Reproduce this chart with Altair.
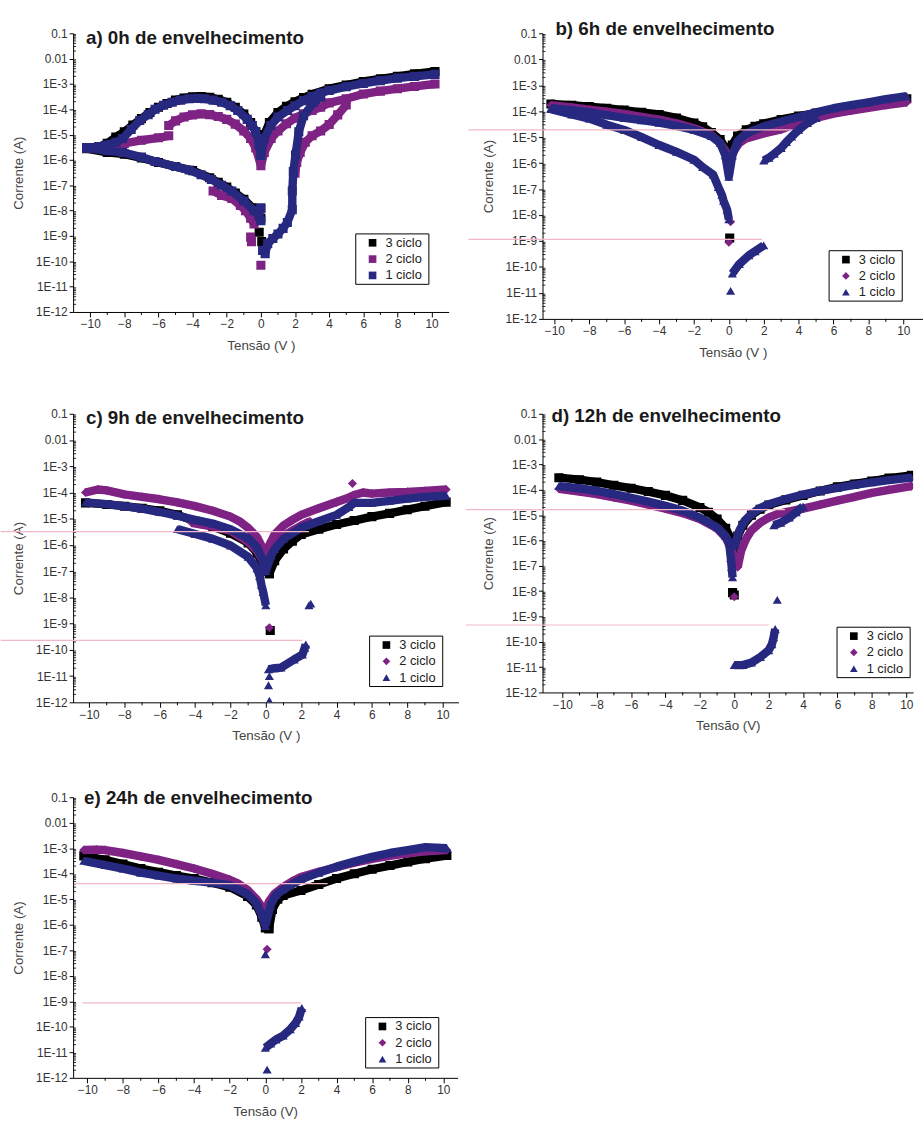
import altair as alt
import pandas as pd

FONT = "Liberation Sans"
SERIES = ["3 ciclo", "2 ciclo", "1 ciclo"]
COLORS = ["#000000", "#7E2283", "#27287F"]
PINK = "#F2B8C8"

# ---------------- panel a) 0h ----------------
a3_up = [(-10.2, 3e-6), (-9.5, 3.3e-6), (-9, 4.5e-6), (-8.5, 8e-6), (-8, 1.3e-5), (-7.5, 2.4e-5),
         (-7, 4.3e-5), (-6.5, 7.5e-5), (-6, 1.2e-4), (-5.5, 1.7e-4), (-5, 2.3e-4), (-4.5, 2.8e-4),
         (-4, 3.1e-4), (-3.5, 3.2e-4), (-3, 3e-4), (-2.5, 2.5e-4), (-2, 1.9e-4), (-1.5, 1.2e-4),
         (-1, 6.5e-5), (-0.6, 3e-5), (-0.3, 1.3e-5), (0, 2e-6), (0.2, 1e-5), (0.5, 3e-5), (1, 7.5e-5),
         (1.5, 1.3e-4), (2, 2e-4), (2.5, 2.9e-4), (3, 3.9e-4), (4, 6.5e-4), (5, 9e-4), (6, 1.25e-3),
         (7, 1.6e-3), (8, 2e-3), (9, 2.5e-3), (10.2, 3.1e-3)]
a3_low = [(-10.2, 2.8e-6), (-9, 2e-6), (-8, 1.7e-6), (-7, 1.2e-6), (-6, 8e-7), (-5, 5.5e-7),
          (-4, 3.8e-7), (-3, 2e-7), (-2.5, 1.3e-7), (-2, 8.5e-8), (-1.5, 5e-8), (-1, 2.8e-8),
          (-0.5, 1.3e-8), (-0.2, 8e-9), (0, 5e-9)]
a3_dots = [(-0.1, 1.4e-9), (0.05, 6e-10)]
a2_seg = [(-10.2, 3e-6), (-9, 3.2e-6), (-8.5, 3.6e-6), (-8, 4.5e-6), (-7, 6e-6), (-6, 7.5e-6), (-5.4, 9e-6)]
a2_up = [(-5.4, 2.3e-5), (-5, 3.5e-5), (-4.5, 5e-5), (-4, 6e-5), (-3.5, 6.6e-5), (-3, 6.2e-5),
         (-2.5, 5.2e-5), (-2, 4e-5), (-1.5, 2.6e-5), (-1, 1.4e-5), (-0.6, 7e-6), (-0.3, 3e-6),
         (0, 6e-7), (0.2, 2e-6), (0.6, 7e-6), (1, 1.4e-5), (1.5, 2.7e-5), (2, 4.5e-5), (2.5, 6.6e-5),
         (3, 9e-5), (3.5, 1.2e-4), (4, 1.8e-4), (5, 2.6e-4), (6, 4e-4), (7, 5.2e-4), (8, 6.5e-4),
         (9, 8e-4), (10.2, 1e-3)]
a2_low = [(-2.8, 6e-8), (-2.3, 4e-8), (-1.7, 3e-8), (-1.2, 1.6e-8), (-0.9, 1e-8), (-0.6, 5e-9), (-0.4, 3e-9)]
a2_rise = [(2.0, 3e-7), (2.1, 8e-7), (2.3, 2e-6), (2.6, 5e-6), (3.0, 9e-6), (3.5, 1.4e-5),
           (4.0, 2.5e-5), (4.5, 6e-5), (5, 1.5e-4)]
a2_dots = [(-0.6, 9e-10), (-0.55, 6e-10), (0, 7e-11), (0, 1.2e-8)]
a1_up = [(-10.2, 3e-6), (-9.5, 3.3e-6), (-9, 4e-6), (-8.5, 5e-6), (-8.1, 7e-6), (-7.6, 1.6e-5),
         (-7.1, 3.6e-5), (-6.6, 6.2e-5), (-6.2, 1e-4), (-5.7, 1.45e-4), (-5.2, 1.9e-4), (-4.7, 2.3e-4),
         (-4.2, 2.6e-4), (-3.7, 2.7e-4), (-3.3, 2.6e-4), (-2.8, 2.3e-4), (-2.3, 1.9e-4), (-1.8, 1.4e-4),
         (-1.35, 9e-5), (-0.8, 4e-5), (-0.5, 2.3e-5), (-0.3, 1.3e-5), (-0.1, 4e-6), (0, 1.5e-6),
         (0.2, 7e-6), (0.58, 2.3e-5), (1, 5e-5), (1.55, 9e-5), (2, 1.4e-4), (2.5, 2.2e-4),
         (3, 3.2e-4), (3.5, 4.4e-4), (4, 5.5e-4), (5, 7.8e-4), (6, 1.05e-3), (7, 1.35e-3),
         (8, 1.7e-3), (9, 2e-3), (10.2, 2.4e-3)]
a1_low = [(-10.2, 3e-6), (-9, 2.3e-6), (-8.1, 2e-6), (-7, 1.3e-6), (-6.2, 8.7e-7), (-5, 5.5e-7),
          (-4.2, 4e-7), (-3.5, 2.6e-7), (-2.9, 1.7e-7), (-2.3, 1e-7), (-1.7, 5.9e-8), (-1, 2.4e-8),
          (-0.4, 1e-8), (-0.1, 6e-9), (0, 4e-9)]
a1_rise = [(0.1, 2.7e-10), (0.25, 2e-10), (0.4, 5e-10), (0.7, 8e-10), (1, 1.2e-9), (1.3, 2e-9),
           (1.55, 3.4e-9), (1.84, 1.1e-8), (1.84, 6e-8), (1.9, 3.5e-7), (2.03, 1.6e-6),
           (2.22, 1.3e-5), (2.5, 5.6e-5), (3.1, 1.9e-4), (3.5, 3e-4)]
a1_dots = [(0, 1.3e-8)]

# ---------------- panel b) 6h ----------------
b3_left = [(-10.2, 1.9e-4), (-9, 1.7e-4), (-8, 1.5e-4), (-7, 1.3e-4), (-6, 1.1e-4), (-5, 9e-5),
           (-4, 7.5e-5), (-3, 5.5e-5), (-2, 3.5e-5), (-1.5, 2.5e-5), (-1, 1.5e-5), (-0.5, 8e-6),
           (-0.2, 4e-6), (0, 2e-6)]
b3_right = [(0, 2e-6), (0.2, 5e-6), (0.5, 1.1e-5), (1, 1.9e-5), (1.5, 2.6e-5), (2, 3.3e-5),
            (3, 4.8e-5), (4, 6.5e-5), (5, 8.5e-5), (6, 1.1e-4), (7, 1.4e-4), (8, 1.8e-4),
            (9, 2.3e-4), (10.2, 3e-4)]
b3_dots = [(0.05, 1.3e-9)]
b2_left = [(-10.2, 1.7e-4), (-9, 1.4e-4), (-8, 1.15e-4), (-7, 9.5e-5), (-6, 7.8e-5), (-5, 6e-5),
           (-4, 4.7e-5), (-3, 3.4e-5), (-2, 2.2e-5), (-1, 1.2e-5), (-0.5, 6e-6), (-0.2, 3e-6), (0, 1e-6)]
b2_right = [(0, 1e-6), (0.3, 3e-6), (0.6, 6e-6), (1, 9e-6), (2, 1.4e-5), (3, 2e-5), (4, 3.5e-5),
            (5, 5.5e-5), (6, 8e-5), (7, 1.05e-4), (8, 1.35e-4), (9, 1.7e-4), (10.2, 2.2e-4)]
b2_dots = [(0.1, 5.5e-9), (0, 9e-10)]
b1_up = [(-10.2, 1.3e-4), (-9, 1.1e-4), (-8, 9e-5), (-7, 7e-5), (-6, 5.5e-5), (-5, 4.5e-5),
         (-4, 3.6e-5), (-3, 2.7e-5), (-2, 1.9e-5), (-1, 1.1e-5), (-0.5, 6e-6), (-0.2, 2e-6), (0, 3e-7),
         (0.2, 2e-6), (0.5, 7e-6), (1, 1.4e-5), (2, 2.6e-5), (3, 4e-5), (4, 6e-5), (5, 9e-5),
         (6, 1.3e-4), (7, 1.7e-4), (8, 2.2e-4), (9, 2.9e-4), (10.2, 3.8e-4)]
b1_low = [(-10.2, 1.2e-4), (-9, 7.5e-5), (-8, 5.2e-5), (-7, 3e-5), (-6, 1.9e-5), (-5, 1e-5),
          (-4, 5e-6), (-3, 2.7e-6), (-2, 1.35e-6), (-1.5, 7e-7), (-0.9, 3.6e-7), (-0.6, 1.2e-7),
          (-0.4, 6e-8), (-0.3, 3.5e-8), (-0.1, 1.6e-8), (0, 6.8e-9)]
b1_tail = [(0.2, 5.6e-11), (0.6, 1.3e-10), (1.15, 2.8e-10), (1.5, 4e-10), (2, 6.8e-10)]
b1_rise = [(2, 1.25e-6), (2.3, 1.6e-6), (2.6, 2.3e-6), (3, 3.8e-6), (3.3, 6.5e-6), (3.6, 1.05e-5),
           (4, 1.9e-5), (4.5, 3.5e-5), (5, 5.5e-5)]
b1_dots = [(0.1, 1.2e-11)]

# ---------------- panel c) 9h ----------------
c3_left = [(-10.2, 4e-5), (-9, 3.5e-5), (-8, 3e-5), (-7, 2.5e-5), (-6, 2e-5), (-5, 1.4e-5),
           (-4, 8e-6), (-3, 5e-6), (-2, 2.8e-6), (-1, 1.2e-6), (-0.5, 5e-7), (-0.2, 2e-7),
           (0, 1e-7), (0.2, 8e-8)]
c3_right = [(0.2, 8e-8), (0.5, 2.5e-7), (1, 7e-7), (1.5, 1.4e-6), (2, 2.5e-6), (3, 4e-6),
            (4, 6e-6), (5, 8.5e-6), (6, 1.2e-5), (7, 1.6e-5), (8, 2.2e-5), (9, 3e-5), (10.2, 4.3e-5)]
c3_dots = [(0.25, 5.5e-10)]
c2_up = [(-10.2, 1e-4), (-9.5, 1.3e-4), (-9, 1.2e-4), (-8, 8.5e-5), (-7, 6.8e-5), (-6, 5.5e-5),
         (-5, 4.2e-5), (-4, 3e-5), (-3, 2e-5), (-2, 1.2e-5), (-1.5, 8e-6), (-1, 4.5e-6),
         (-0.5, 2e-6), (-0.2, 8e-7), (0, 2.6e-7), (0.2, 1e-6), (0.5, 2.5e-6), (1, 5.5e-6),
         (1.5, 9e-6), (2, 1.4e-5), (3, 2.5e-5), (4, 4.3e-5), (4.6, 6e-5), (5, 8e-5), (5.5, 1e-4),
         (6, 9e-5), (7, 1e-4), (8, 1.05e-4), (9, 1.15e-4), (10.2, 1.3e-4)]
c2_inner = [(-4.2, 7e-6), (-3, 5e-6), (-2, 3.5e-6), (-1, 1.3e-6), (-0.5, 6e-7), (0, 1.5e-7),
            (0.3, 4e-7), (0.6, 1e-6), (1, 2.2e-6), (1.5, 3.5e-6), (2, 5.5e-6), (2.5, 8e-6)]
c2_dots = [(0.2, 7e-10), (4.9, 2.2e-4)]
c1_up = [(-10.2, 4.2e-5), (-9, 3.6e-5), (-8, 3e-5), (-7, 2.4e-5), (-6, 1.8e-5), (-5, 1.3e-5),
         (-4, 9e-6), (-3, 6.5e-6), (-2, 4e-6), (-1, 1.8e-6), (-0.5, 8e-7), (-0.2, 3e-7), (0, 1e-7),
         (0.3, 4e-7), (0.5, 7e-7), (1, 1.7e-6), (2, 4.5e-6), (3, 8e-6), (4, 1.4e-5), (4.7, 2.8e-5),
         (5, 4e-5), (6, 4e-5), (7, 4.8e-5), (8, 5.8e-5), (9, 6.8e-5), (10.2, 7.5e-5)]
c1_low = [(-5, 4e-6), (-4, 2.6e-6), (-3, 1.7e-6), (-2, 9.5e-7), (-1, 3.5e-7), (-0.5, 1.3e-7),
          (-0.35, 6.5e-8), (-0.25, 3e-8), (-0.15, 1.6e-8), (0, 5e-9)]
c1_tail = [(0.15, 1.8e-11), (0.5, 2e-11), (0.86, 2.1e-11), (1.6, 4.3e-11), (2.07, 6.6e-11),
           (2.2, 1.2e-10), (2.26, 1.6e-10)]
c1_dots = [(0.2, 1.15e-12), (0.15, 4.5e-12), (0.2, 1e-11), (2.44, 5e-9), (2.54, 5.8e-9)]

# ---------------- panel d) 12h ----------------
d3_left = [(-10.2, 3e-4), (-9, 2.5e-4), (-8, 2e-4), (-7, 1.5e-4), (-6, 1.15e-4), (-5, 8.5e-5),
           (-4, 6e-5), (-3, 3.8e-5), (-2, 2e-5), (-1.5, 1.3e-5), (-1, 7e-6), (-0.5, 3e-6),
           (-0.2, 1.2e-6), (0, 5e-7)]
d3_right = [(0, 5e-7), (0.2, 1.5e-6), (0.5, 4e-6), (1, 1e-5), (1.5, 1.7e-5), (2, 2.5e-5),
            (3, 4e-5), (4, 6e-5), (5, 9e-5), (6, 1.3e-4), (7, 1.7e-4), (8, 2.2e-4), (9, 2.9e-4),
            (10.3, 3.7e-4)]
d3_dots = [(-0.1, 8.7e-9), (0, 7e-9)]
d2_left = [(-10.2, 1.1e-4), (-9, 8.5e-5), (-8, 6.8e-5), (-7, 5e-5), (-6, 3.7e-5), (-5, 2.6e-5),
           (-4, 1.8e-5), (-3, 1.2e-5), (-2, 7e-6), (-1, 3e-6), (-0.5, 1.3e-6), (-0.2, 5e-7),
           (0, 2e-7), (0.2, 9e-8)]
d2_right = [(0.2, 9e-8), (0.4, 4e-7), (0.7, 1.2e-6), (1, 2.5e-6), (1.5, 5e-6), (2, 8e-6),
            (2.5, 1.1e-5), (3, 1.3e-5), (4, 1.8e-5), (5, 2.6e-5), (6, 3.7e-5), (7, 5.2e-5),
            (8, 7.5e-5), (9, 1e-4), (10.3, 1.4e-4)]
d2_dots = [(0, 6e-9)]
d1_up = [(-10.2, 1.4e-4), (-9, 1.15e-4), (-8, 9e-5), (-7, 6.8e-5), (-6, 4.8e-5), (-5, 3.4e-5),
         (-4, 2.3e-5), (-3, 1.5e-5), (-2, 8e-6), (-1, 3.3e-6), (-0.5, 1.5e-6), (-0.3, 8e-7),
         (-0.2, 2e-7), (-0.15, 9e-8), (-0.1, 3.5e-8)]
d1_right = [(0, 6e-7), (0.3, 2.5e-6), (0.6, 6e-6), (1, 1.1e-5), (1.5, 1.9e-5), (2, 2.7e-5),
            (3, 4.3e-5), (4, 6.5e-5), (5, 9e-5), (6, 1.2e-4), (7, 1.55e-4), (8, 1.95e-4),
            (9, 2.4e-4), (10.3, 3e-4)]
d1_mid = [(2.3, 4e-6), (2.7, 5e-6), (3.2, 8e-6), (3.6, 1.3e-5), (4, 2.2e-5)]
d1_tail = [(0, 1.2e-11), (0.5, 1.2e-11), (1, 1.5e-11), (1.52, 2.5e-11), (2, 4.6e-11),
           (2.19, 8e-11), (2.29, 1.5e-10), (2.38, 3.2e-10)]
d1_dots = [(2.5, 4.5e-9)]

# ---------------- panel e) 24h ----------------
e3_left = [(-10.2, 5e-4), (-9, 3.5e-4), (-8, 2.4e-4), (-7, 1.6e-4), (-6, 1.15e-4), (-5, 8.5e-5),
           (-4, 6.5e-5), (-3, 4.5e-5), (-2, 3e-5), (-1, 1.3e-5), (-0.5, 6e-6), (-0.2, 2e-6),
           (0, 7.5e-7), (0.2, 7e-7)]
e3_right = [(0.2, 7e-7), (0.4, 4e-6), (0.7, 1e-5), (1, 1.4e-5), (2, 2.2e-5), (3, 3.8e-5),
            (4, 6.5e-5), (5, 1e-4), (6, 1.5e-4), (7, 2.1e-4), (8, 2.9e-4), (9, 3.9e-4), (10.2, 5.2e-4)]
e2_left = [(-10.2, 8.5e-4), (-9.5, 8.8e-4), (-9, 8.5e-4), (-8, 6.5e-4), (-7, 4.8e-4), (-6, 3.5e-4),
           (-5, 2.4e-4), (-4, 1.6e-4), (-3, 1e-4), (-2, 5.8e-5), (-1.5, 4e-5), (-1, 2.3e-5),
           (-0.5, 1e-5), (-0.2, 5e-6), (0, 2.8e-6)]
e2_right = [(0, 2.8e-6), (0.2, 8e-6), (0.5, 1.6e-5), (1, 3e-5), (1.5, 5e-5), (2, 7.5e-5),
            (3, 1.2e-4), (4, 1.8e-4), (5, 2.7e-4), (6, 3.8e-4), (7, 5e-4), (8, 6.3e-4), (9, 7.5e-4),
            (10.2, 8.5e-4)]
e2_dots = [(0.1, 1.1e-7)]
e1_left = [(-10.2, 3.2e-4), (-9, 2.2e-4), (-8, 1.6e-4), (-7, 1.1e-4), (-6, 8.5e-5), (-5, 6.5e-5),
           (-4, 5.3e-5), (-3, 4.5e-5), (-2, 3.5e-5), (-1, 1.6e-5), (-0.5, 7e-6), (-0.2, 2.5e-6),
           (0, 9e-7)]
e1_right = [(0, 9e-7), (0.3, 6e-6), (0.6, 1.5e-5), (1, 2.4e-5), (2, 6e-5), (3, 1.1e-4), (4, 1.9e-4),
            (5, 3e-4), (6, 4.6e-4), (7, 6.5e-4), (8, 8.5e-4), (9, 1.1e-3), (10.2, 1e-3)]
e1_tail = [(0, 1.5e-11), (0.3, 2.2e-11), (0.6, 3.2e-11), (1, 4.5e-11), (1.4, 8e-11), (1.7, 1.4e-10),
           (1.9, 2.5e-10), (2.05, 5.5e-10)]
e1_dots = [(0, 7e-8), (0.1, 2.1e-12)]

# pink guide lines (x start, x end, level)
b_lines = [(-14.93, 3.6, 1.9e-5), (-14.93, 1.9, 1.15e-9)]
c_lines = [(-15.0, 2.44, 3.2e-6), (-15.0, 2.07, 2.3e-10)]
d_lines = [(-15.6, 2.95, 1.65e-5), (-15.6, 2.0, 4.6e-10)]
e_lines = [(-10.74, 3.5, 4.1e-5), (-10.28, 2.0, 8.7e-10)]

# axis tick positions
Y_TICKS = [1e-12, 1e-11, 1e-10, 1e-9, 1e-8, 1e-7, 1e-6, 1e-5, 1e-4, 1e-3, 1e-2, 1e-1]
Y_MINOR = [m * d for d in Y_TICKS[:-1] for m in (2, 3, 4, 5, 6, 7, 8, 9)]
X_TICKS = [-10, -8, -6, -4, -2, 0, 2, 4, 6, 8, 10]
X_MINOR = [-9, -7, -5, -3, -1, 1, 3, 5, 7, 9]

PANELS = {
    "a": {"3 ciclo": ([a3_up, a3_low], a3_dots),
          "2 ciclo": ([a2_seg, a2_up, a2_low, a2_rise], a2_dots),
          "1 ciclo": ([a1_up, a1_low, a1_rise], a1_dots)},
    "b": {"3 ciclo": ([b3_left, b3_right], b3_dots),
          "2 ciclo": ([b2_left, b2_right], b2_dots),
          "1 ciclo": ([b1_up, b1_low, b1_tail, b1_rise], b1_dots)},
    "c": {"3 ciclo": ([c3_left, c3_right], c3_dots),
          "2 ciclo": ([c2_up, c2_inner], c2_dots),
          "1 ciclo": ([c1_up, c1_low, c1_tail], c1_dots)},
    "d": {"3 ciclo": ([d3_left, d3_right], d3_dots),
          "2 ciclo": ([d2_left, d2_right], d2_dots),
          "1 ciclo": ([d1_up, d1_right, d1_mid, d1_tail], d1_dots)},
    "e": {"3 ciclo": ([e3_left, e3_right], []),
          "2 ciclo": ([e2_left, e2_right], e2_dots),
          "1 ciclo": ([e1_left, e1_right, e1_tail], e1_dots)},
}

rows = []
seg = 0
for pid, series in PANELS.items():
    for s, (branches, dots) in series.items():
        for br in branches:
            seg += 1
            for k, (v, i) in enumerate(br):
                rows.append({"panel": pid, "serie": s, "seg": seg, "k": k, "V": v, "I": i, "band": 1})
        for (v, i) in dots:
            seg += 1
            rows.append({"panel": pid, "serie": s, "seg": seg, "k": 0, "V": v, "I": i, "band": 0})
df = pd.DataFrame(rows)

Y_EXPR = ("datum.value >= 0.05 ? '0.1' : datum.value >= 0.005 ? '0.01' : "
          "'1E-' + round(-log(datum.value) / LN10)")


def one(values):
    return alt.Data(values=values)


def panel(pid, title, title_xy, xdom, width, height, shapes, leg_xy, lines, xtitle):
    d = df[df.panel == pid]
    xs = alt.Scale(domain=xdom, nice=False, zero=False)
    ys = alt.Scale(type="log", domain=[1e-12, 0.1], nice=False)
    xa = alt.Axis(values=X_TICKS, title=xtitle, grid=False, tickSize=5, labelPadding=2, titlePadding=9)
    ya = alt.Axis(values=Y_TICKS, labelExpr=Y_EXPR, title="Corrente (A)", grid=False, tickSize=4,
                  labelPadding=2, titlePadding=10)
    layers = []
    # minor ticks
    layers.append(alt.Chart(pd.DataFrame({"m": X_MINOR})).mark_rule(color="#000", strokeWidth=1).encode(
        x=alt.X("m:Q", scale=xs, axis=xa), y=alt.value(height), y2=alt.value(height + 3)))
    layers.append(alt.Chart(pd.DataFrame({"m": Y_MINOR})).mark_rule(color="#000", strokeWidth=0.8).encode(
        y=alt.Y("m:Q", scale=ys, axis=ya), x=alt.value(0), x2=alt.value(3)))
    for s, col in zip(SERIES, COLORS):
        ds = d[d.serie == s]
        layers.append(alt.Chart(ds[ds.band == 1]).mark_line(
            strokeWidth=8.5, strokeCap="butt", strokeJoin="round", color=col, clip=True).encode(
            x=alt.X("V:Q", scale=xs, axis=xa), y=alt.Y("I:Q", scale=ys, axis=ya),
            detail="seg:N", order="k:Q"))
        layers.append(alt.Chart(ds).mark_point(filled=True, size=85, opacity=1, clip=True).encode(
            x=alt.X("V:Q", scale=xs, axis=xa), y=alt.Y("I:Q", scale=ys, axis=ya),
            color=alt.Color("serie:N", scale=alt.Scale(domain=SERIES, range=COLORS), legend=None),
            shape=alt.Shape("serie:N", scale=alt.Scale(domain=SERIES, range=shapes), legend=None)))
    if lines:
        ldf = pd.DataFrame([{"x1": a, "x2": b, "lvl": c} for a, b, c in lines])
        layers.append(alt.Chart(ldf).mark_rule(color=PINK, strokeWidth=1.2, clip=False).encode(
            x=alt.X("x1:Q", scale=xs, axis=xa), x2="x2:Q",
            y=alt.Y("lvl:Q", scale=ys, axis=ya)))
    # panel title
    layers.append(alt.Chart(one([{"t": title}])).mark_text(
        align="left", baseline="middle", fontSize=19, fontWeight="bold", font=FONT,
        color="#1a1a1a").encode(text="t:N", x=alt.value(title_xy[0]), y=alt.value(title_xy[1])))
    # legend box
    lx, ly = leg_xy
    layers.append(alt.Chart(one([{"b": 1}])).mark_rect(fill="white", stroke="#000", strokeWidth=1).encode(
        x=alt.value(lx), x2=alt.value(lx + 74), y=alt.value(ly), y2=alt.value(ly + 51)))
    for i, (s, col) in enumerate(zip(SERIES, COLORS)):
        yy = ly + 9 + i * 16.5
        layers.append(alt.Chart(one([{"s": s}])).mark_point(
            filled=True, size=60, opacity=1, shape=shapes[i], color=col).encode(
            x=alt.value(lx + 17), y=alt.value(yy)))
        layers.append(alt.Chart(one([{"s": s}])).mark_text(
            align="left", baseline="middle", fontSize=13, font=FONT, color="#222").encode(
            text="s:N", x=alt.value(lx + 30), y=alt.value(yy)))
    return alt.layer(*layers).properties(width=width, height=height)


SQ3 = ["square", "square", "square"]
MIX = ["square", "diamond", "triangle-up"]

pa = panel("a", "a) 0h de envelhecimento", (13, 5), [-11.0, 11.0], 380, 282, SQ3, (286, 203), [],
           "Tensão (V )")
pb = panel("b", "b) 6h de envelhecimento", (13, -4), [-10.68, 11.13], 385, 289, MIX, (290, 220),
           b_lines, "Tensão (V )")
pc = panel("c", "c) 9h de envelhecimento", (13, 4), [-10.9, 10.9], 390, 292, MIX, (300, 225),
           c_lines, "Tensão (V )")
pd_ = panel("d", "d) 12h de envelhecimento", (9, 2), [-11.15, 10.4], 375, 282, MIX, (298, 216),
            d_lines, "Tensão (V)")
pe = panel("e", "e) 24h de envelhecimento", (11, 1), [-10.8, 10.8], 389, 284, MIX, (296, 223),
           e_lines, "Tensão (V)")

chart = alt.concat(pa, pb, pc, pd_, pe, columns=2, align="none", bounds="flush",
                   spacing={"row": 96, "column": 85}).resolve_scale(
    color="independent", shape="independent"
).properties(
    padding={"left": 0, "top": 14, "right": 0, "bottom": 0}
).configure_view(stroke=None).configure_axis(
    labelFont=FONT, labelFontSize=12, labelColor="#333", titleFont=FONT, titleFontSize=13.5,
    titleFontWeight="normal", titleColor="#444", domainColor="#000", tickColor="#000",
    domainWidth=1
)

chart.save("out.html", embed_options={"renderer": "svg", "actions": False})
